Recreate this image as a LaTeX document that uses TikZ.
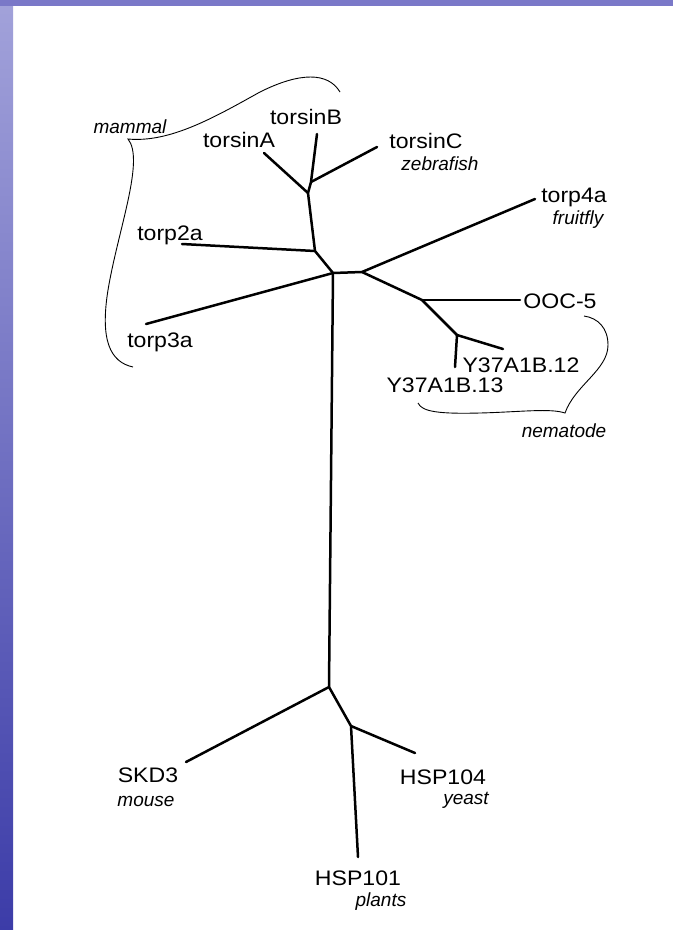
\documentclass[tikz,border=0pt]{standalone}
\usepackage{xcolor}
\usepackage{fontspec}
\setmainfont{Liberation Sans}
\newfontfamily\leaffont[FakeStretch=1.1]{Liberation Sans}
\usepackage{tikz}
\usetikzlibrary{positioning}

\definecolor{bandtop}{HTML}{7A78C8}
\definecolor{bandlight}{HTML}{A2A2DA}
\definecolor{banddark}{HTML}{3C3CA8}

\begin{document}
\begin{tikzpicture}[x=1pt, y=-1pt,
    leaf/.style={font=\leaffont\fontsize{21}{21}\selectfont, inner sep=0pt, anchor=base},
    taxon/.style={font=\itshape\fontsize{19}{19}\selectfont, inner sep=0pt, anchor=base},
    branch/.style={line width=2.5pt, line cap=round, line join=round},
    brace/.style={line width=0.9pt}]
\useasboundingbox (0,0) rectangle (673,930);
\fill[white] (0,0) rectangle (673,930);
\shade[top color=bandlight, bottom color=banddark] (0,0) rectangle (13,930);
\fill[bandtop] (0,0) rectangle (673,6);

\coordinate (nA) at (308,193);
\coordinate (nC) at (311,182);
\coordinate (n2) at (315,251);
\coordinate (nM) at (333,273);
\coordinate (nN) at (362,272);
\coordinate (nO) at (422,300);
\coordinate (nY) at (457,335);
\coordinate (nR) at (329,687);
\coordinate (nH) at (351,726);

\coordinate (tipA) at (264,153);
\coordinate (tipB) at (317,134);
\coordinate (tipC) at (377,147);
\coordinate (tip2) at (182,244);
\coordinate (tip3) at (146,324);
\coordinate (tip4) at (535,199);
\coordinate (tipO) at (520,300);
\coordinate (tipY12) at (503,349);
\coordinate (tipY13) at (455,367);
\coordinate (tipS) at (186,762);
\coordinate (tipH4) at (415,753);
\coordinate (tipH1) at (358,857);

\node[leaf] (torsinA) at (239,147) {torsinA};
\node[leaf] (torsinB) at (306,124) {torsinB};
\node[leaf] (torsinC) at (426,148) {torsinC};
\node[taxon] (zebrafish) at (440,170) {zebrafish};
\node[leaf] (torp2a) at (170,240) {torp2a};
\node[leaf] (torp3a) at (160,347) {torp3a};
\node[leaf] (torp4a) at (574,202) {torp4a};
\node[taxon] (fruitfly) at (578,224) {fruitfly};
\node[leaf] (ooc5) at (560,308) {OOC-5};
\node[leaf] (y12) at (521,372) {Y37A1B.12};
\node[leaf] (y13) at (445,392) {Y37A1B.13};
\node[taxon] (nematode) at (564,437) {nematode};
\node[taxon] (mammal) at (130,133) {mammal};
\node[leaf] (skd3) at (148,782) {SKD3};
\node[taxon] (mouse) at (146,806) {mouse};
\node[leaf] (hsp104) at (443,784) {HSP104};
\node[taxon] (yeast) at (466,804) {yeast};
\node[leaf] (hsp101) at (358,885) {HSP101};
\node[taxon] (plants) at (381,906) {plants};

\draw[branch] (tipB) -- (nC) -- (nA) -- (n2) -- (nM) -- (nN) -- (nO) -- (nY) -- (tipY12);
\draw[branch] (tipA) -- (nA);
\draw[branch] (tipC) -- (nC);
\draw[branch] (tip2) -- (n2);
\draw[branch] (tip3) -- (nM);
\draw[branch] (tip4) -- (nN);
\draw[branch] (tipO) -- (nO);
\draw[branch] (tipY13) -- (nY);
\draw[branch] (nM) -- (nR) -- (nH) -- (tipH1);
\draw[branch] (tipS) -- (nR);
\draw[branch] (tipH4) -- (nH);

\draw[brace] (340,92) .. controls (328,72) and (300,72) .. (260,92)
    .. controls (215,117) and (170,143) .. (128,139)
    .. controls (145,160) and (118,230) .. (108,290)
    .. controls (100,340) and (110,362) .. (133,367);
\draw[brace] (418,403) .. controls (422,412) and (440,414) .. (480,413)
    .. controls (520,412) and (550,408) .. (565,413)
    .. controls (575,385) and (608,370) .. (608,345)
    .. controls (608,328) and (598,318) .. (584,316);

\end{tikzpicture}
\end{document}
